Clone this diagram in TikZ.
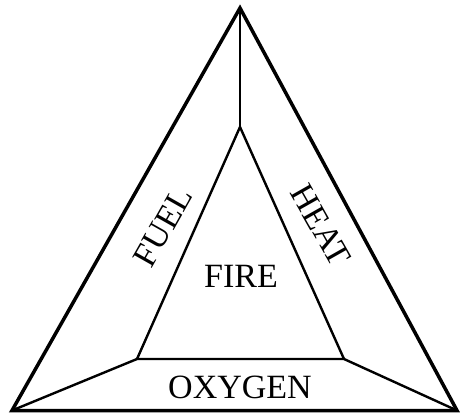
\documentclass[tikz,border=0pt]{standalone}
\usepackage{fontspec}
\setmainfont{Liberation Serif}
\begin{document}
\begin{tikzpicture}[x=1pt,y=-1pt,
  outer/.style={line width=3.5pt,line join=miter},
  inner/.style={line width=2.4pt,line join=miter},
  lbl/.style={font=\fontsize{34}{34}\selectfont,inner sep=0pt}]
\useasboundingbox (0,0) rectangle (461,415);
\coordinate (OA) at (240,8);
\coordinate (OL) at (12,410.5);
\coordinate (OR) at (457,410.5);
\coordinate (IA) at (240,127);
\coordinate (IL) at (137,359);
\coordinate (IR) at (344,359);
\draw[inner] (OA) -- (IA);
\draw[inner] (OL) -- (IL);
\draw[inner] (OR) -- (IR);
\draw[inner] (IA) -- (IL) -- (IR) -- cycle;
\draw[outer] (OA) -- (OL) -- (OR) -- cycle;
\node[lbl] (fire) at (241,276) {FIRE};
\node[lbl] (oxy) at (240,387) {OXYGEN};
\node[lbl,rotate=60.5] (fuel) at (163,227) {FUEL};
\node[lbl,rotate=-60.5] (heat) at (321,225) {HEAT};
\end{tikzpicture}
\end{document}
